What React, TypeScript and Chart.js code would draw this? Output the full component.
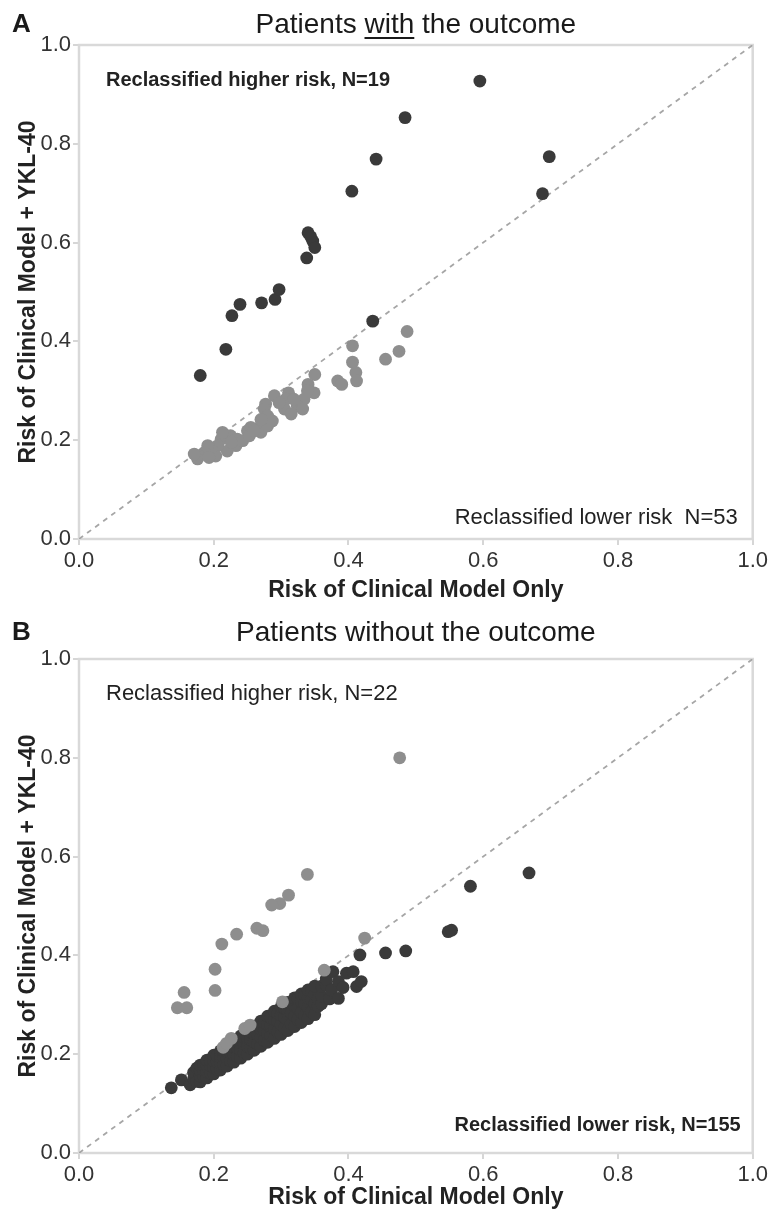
import React, { useEffect, useRef } from 'react';
import { Chart, registerables } from 'chart.js';

Chart.register(...registerables);

type Pt = [number, number];

const TICKS = [0, 0.2, 0.4, 0.6, 0.8, 1.0];
const DIAGONAL = [0, 1];

// Panel A: patients with the outcome
const A_HIGHER: Pt[] = [
  [0.595, 0.927], [0.484, 0.853], [0.441, 0.769], [0.405, 0.704], [0.698, 0.774],
  [0.688, 0.699], [0.340, 0.620], [0.347, 0.603], [0.350, 0.590], [0.338, 0.569],
  [0.436, 0.441], [0.180, 0.331], [0.218, 0.384], [0.227, 0.452], [0.239, 0.475],
  [0.271, 0.478], [0.291, 0.485], [0.297, 0.505], [0.344, 0.612],
];
const A_LOWER: Pt[] = [
  [0.487, 0.420], [0.406, 0.391], [0.475, 0.380], [0.455, 0.364], [0.406, 0.358],
  [0.411, 0.337], [0.412, 0.320], [0.384, 0.320], [0.390, 0.313], [0.350, 0.333],
  [0.340, 0.313], [0.349, 0.296], [0.334, 0.283], [0.324, 0.269], [0.332, 0.263],
  [0.311, 0.296], [0.307, 0.283], [0.305, 0.263], [0.290, 0.290], [0.277, 0.273],
  [0.275, 0.263], [0.280, 0.249], [0.270, 0.229], [0.270, 0.216], [0.255, 0.226],
  [0.250, 0.219], [0.280, 0.229], [0.287, 0.239], [0.235, 0.202], [0.225, 0.209],
  [0.218, 0.209], [0.211, 0.202], [0.233, 0.189], [0.220, 0.178], [0.206, 0.189],
  [0.203, 0.168], [0.196, 0.182], [0.191, 0.189], [0.186, 0.175], [0.178, 0.168],
  [0.176, 0.162], [0.171, 0.172], [0.193, 0.165], [0.213, 0.216], [0.243, 0.199],
  [0.253, 0.209], [0.260, 0.219], [0.297, 0.276], [0.315, 0.253], [0.319, 0.283],
  [0.339, 0.300], [0.270, 0.242], [0.226, 0.196],
];

// Panel B: patients without the outcome
const B_HIGHER: Pt[] = [
  [0.476, 0.800], [0.339, 0.564], [0.311, 0.522], [0.298, 0.505], [0.286, 0.502],
  [0.264, 0.455], [0.273, 0.450], [0.234, 0.443], [0.212, 0.423], [0.424, 0.435],
  [0.202, 0.372], [0.202, 0.329], [0.156, 0.325], [0.146, 0.294], [0.160, 0.294],
  [0.364, 0.370], [0.302, 0.306], [0.246, 0.252], [0.254, 0.259], [0.214, 0.214],
  [0.219, 0.222], [0.226, 0.232],
];
const B_LOWER: Pt[] = [
  [0.137, 0.132], [0.152, 0.148], [0.165, 0.138], [0.170, 0.150], [0.170, 0.163],
  [0.175, 0.145], [0.175, 0.172],
  [0.180, 0.144], [0.180, 0.156], [0.180, 0.167], [0.180, 0.178],
  [0.185, 0.154], [0.185, 0.167], [0.185, 0.178],
  [0.190, 0.152], [0.190, 0.164], [0.190, 0.177], [0.190, 0.188],
  [0.195, 0.162], [0.195, 0.176], [0.195, 0.187],
  [0.200, 0.160], [0.200, 0.173], [0.200, 0.186], [0.200, 0.198],
  [0.205, 0.170], [0.205, 0.185], [0.205, 0.197],
  [0.210, 0.168], [0.210, 0.182], [0.210, 0.195], [0.210, 0.207],
  [0.215, 0.178], [0.215, 0.194], [0.215, 0.206],
  [0.220, 0.176], [0.220, 0.190], [0.220, 0.205], [0.220, 0.217],
  [0.225, 0.187], [0.225, 0.203], [0.225, 0.216],
  [0.230, 0.184], [0.230, 0.199], [0.230, 0.214], [0.230, 0.227],
  [0.235, 0.195], [0.235, 0.212], [0.235, 0.226],
  [0.240, 0.192], [0.240, 0.208], [0.240, 0.223], [0.240, 0.237],
  [0.245, 0.203], [0.245, 0.221], [0.245, 0.235],
  [0.250, 0.200], [0.250, 0.216], [0.250, 0.232], [0.250, 0.247],
  [0.255, 0.212], [0.255, 0.230], [0.255, 0.245],
  [0.260, 0.208], [0.260, 0.225], [0.260, 0.242], [0.260, 0.257],
  [0.265, 0.220], [0.265, 0.239], [0.265, 0.254],
  [0.270, 0.216], [0.270, 0.234], [0.270, 0.251], [0.270, 0.267],
  [0.275, 0.228], [0.275, 0.248], [0.275, 0.264],
  [0.280, 0.224], [0.280, 0.242], [0.280, 0.260], [0.280, 0.277],
  [0.285, 0.237], [0.285, 0.257], [0.285, 0.274],
  [0.290, 0.232], [0.290, 0.251], [0.290, 0.270], [0.290, 0.287],
  [0.295, 0.245], [0.295, 0.266], [0.295, 0.283],
  [0.300, 0.240], [0.300, 0.260], [0.300, 0.279], [0.300, 0.296],
  [0.305, 0.253], [0.305, 0.275], [0.305, 0.293],
  [0.310, 0.248], [0.310, 0.268], [0.310, 0.288], [0.310, 0.305],
  [0.315, 0.261], [0.315, 0.284], [0.315, 0.302],
  [0.320, 0.256], [0.320, 0.277], [0.320, 0.298], [0.320, 0.314],
  [0.325, 0.270], [0.325, 0.293], [0.325, 0.312],
  [0.330, 0.264], [0.330, 0.285], [0.330, 0.306], [0.330, 0.322],
  [0.335, 0.278], [0.335, 0.302], [0.335, 0.320],
  [0.340, 0.272], [0.340, 0.294], [0.340, 0.314], [0.340, 0.330],
  [0.345, 0.286], [0.345, 0.310], [0.345, 0.328],
  [0.350, 0.280], [0.350, 0.302], [0.350, 0.322], [0.350, 0.338],
  [0.355, 0.297], [0.355, 0.312],
  [0.360, 0.302], [0.360, 0.318], [0.360, 0.338],
  [0.367, 0.340], [0.367, 0.352], [0.372, 0.312], [0.375, 0.330], [0.377, 0.367],
  [0.385, 0.313], [0.385, 0.347], [0.392, 0.335], [0.397, 0.364], [0.407, 0.367],
  [0.412, 0.337], [0.419, 0.347], [0.417, 0.401], [0.455, 0.405], [0.485, 0.409],
  [0.548, 0.448], [0.553, 0.451], [0.581, 0.540], [0.668, 0.567],
];

const FONT = "'Liberation Sans', Arial, Helvetica, sans-serif";
const DARK = '#3a3a3a';
const GRAY = '#8e8e8e';

interface PanelSpec {
  letter: string;
  titleParts: { text: string; underline: boolean }[];
  dark: Pt[];
  gray: Pt[];
  grayOnTop: boolean;
  topText: string;
  topBold: boolean;
  bottomText: string;
  bottomBold: boolean;
  canvasTop: number;
  height: number;
  plotTop: number;
  plotBottom: number;
  xScaleH: number;
  titleY: number;
  bottomTextOffset: number;
  bottomTextRight: number;
}

const PANELS: PanelSpec[] = [
  {
    letter: 'A',
    titleParts: [
      { text: 'Patients ', underline: false },
      { text: 'with', underline: true },
      { text: ' the outcome', underline: false },
    ],
    dark: A_HIGHER,
    gray: A_LOWER,
    grayOnTop: false,
    topText: 'Reclassified higher risk, N=19',
    topBold: true,
    bottomText: 'Reclassified lower risk  N=53',
    bottomBold: false,
    canvasTop: 0,
    height: 608,
    plotTop: 45,
    plotBottom: 539,
    xScaleH: 65,
    titleY: 25,
    bottomTextOffset: 21,
    bottomTextRight: 15,
  },
  {
    letter: 'B',
    titleParts: [{ text: 'Patients without the outcome', underline: false }],
    dark: B_LOWER,
    gray: B_HIGHER,
    grayOnTop: true,
    topText: 'Reclassified higher risk, N=22',
    topBold: false,
    bottomText: 'Reclassified lower risk, N=155',
    bottomBold: true,
    canvasTop: 608,
    height: 605,
    plotTop: 51,
    plotBottom: 545,
    xScaleH: 58,
    titleY: 25,
    bottomTextOffset: 28,
    bottomTextRight: 12,
  },
];

function decorPlugin(p: PanelSpec) {
  return {
    id: 'decor' + p.letter,
    beforeDatasetsDraw(chart: any) {
      const { ctx, chartArea: a } = chart;
      ctx.save();
      ctx.strokeStyle = '#d9d9d9';
      ctx.lineWidth = 2.5;
      ctx.strokeRect(a.left, a.top, a.right - a.left, a.bottom - a.top);
      ctx.restore();
    },
    afterDraw(chart: any) {
      const { ctx, chartArea: a } = chart;
      ctx.save();
      ctx.fillStyle = '#1a1a1a';
      ctx.textBaseline = 'middle';
      ctx.textAlign = 'left';
      ctx.font = `bold 26px ${FONT}`;
      ctx.fillText(p.letter, 12, p.titleY);

      ctx.font = `28px ${FONT}`;
      const full = p.titleParts.map((t) => t.text).join('');
      const w = ctx.measureText(full).width;
      let x = (a.left + a.right) / 2 - w / 2;
      for (const part of p.titleParts) {
        const pw = ctx.measureText(part.text).width;
        ctx.fillText(part.text, x, p.titleY);
        if (part.underline) {
          ctx.fillRect(x, p.titleY + 12, pw, 2);
        }
        x += pw;
      }

      ctx.fillStyle = '#222';
      ctx.font = `${p.topBold ? 'bold 20px' : '22px'} ${FONT}`;
      ctx.textAlign = 'left';
      ctx.fillText(p.topText, a.left + 27, a.top + 35);
      ctx.font = `${p.bottomBold ? 'bold 20px' : '22px'} ${FONT}`;
      ctx.textAlign = 'right';
      ctx.fillText(p.bottomText, a.right - p.bottomTextRight, a.bottom - p.bottomTextOffset);
      ctx.restore();
    },
  };
}

function makeConfig(p: PanelSpec): any {
  const darkSet = {
    data: p.dark.map(([x, y]) => ({ x, y })),
    backgroundColor: DARK,
    borderWidth: 0,
    pointRadius: 6.4,
    pointHoverRadius: 6.4,
  };
  const graySet = {
    data: p.gray.map(([x, y]) => ({ x, y })),
    backgroundColor: GRAY,
    borderWidth: 0,
    pointRadius: 6.4,
    pointHoverRadius: 6.4,
  };
  const diag = {
    data: DIAGONAL.map((v) => ({ x: v, y: v })),
    showLine: true,
    borderColor: '#a6a6a6',
    borderDash: [5, 5],
    borderWidth: 1.8,
    pointRadius: 0,
    fill: false,
  };
  const datasets = p.grayOnTop ? [graySet, darkSet, diag] : [darkSet, graySet, diag];
  const tickFont = { family: FONT, size: 22 };
  const titleFont = { family: FONT, size: 23, weight: 'bold' as const, lineHeight: 1.2 };
  return {
    type: 'scatter',
    data: { datasets },
    options: {
      animation: false,
      responsive: false,
      maintainAspectRatio: false,
      events: [],
      layout: {
        padding: {
          left: 0,
          right: 771 - 753,
          top: p.plotTop,
          bottom: p.height - p.plotBottom - p.xScaleH,
        },
      },
      plugins: { legend: { display: false }, tooltip: { enabled: false }, title: { display: false } },
      scales: {
        x: {
          type: 'linear',
          min: 0,
          max: 1,
          afterBuildTicks: (s: any) => {
            s.ticks = TICKS.map((v) => ({ value: v }));
          },
          afterFit: (s: any) => {
            s.height = p.xScaleH;
          },
          ticks: {
            font: tickFont,
            color: '#333',
            padding: 3,
            maxRotation: 0,
            autoSkip: false,
            callback: (v: any) => Number(v).toFixed(1),
          },
          grid: { display: true, drawOnChartArea: false, drawTicks: true, tickLength: 6, color: '#d6d6d6', lineWidth: 2 },
          border: { display: false },
          title: {
            display: true,
            text: 'Risk of Clinical Model Only',
            font: titleFont,
            color: '#222',
            padding: { top: 0, bottom: 0 },
          },
        },
        y: {
          type: 'linear',
          min: 0,
          max: 1,
          afterBuildTicks: (s: any) => {
            s.ticks = TICKS.map((v) => ({ value: v }));
          },
          afterFit: (s: any) => {
            s.width = 79;
          },
          ticks: {
            font: tickFont,
            color: '#333',
            padding: 2,
            autoSkip: false,
            callback: (v: any) => Number(v).toFixed(1),
          },
          grid: { display: true, drawOnChartArea: false, drawTicks: true, tickLength: 6, color: '#d6d6d6', lineWidth: 2 },
          border: { display: false },
          title: {
            display: true,
            text: 'Risk of Clinical Model + YKL-40',
            font: titleFont,
            color: '#222',
            padding: { top: 15, bottom: 0 },
          },
        },
      },
    },
    plugins: [decorPlugin(p)],
  };
}

function Panel({ spec }: { spec: PanelSpec }) {
  const ref = useRef<HTMLCanvasElement>(null);
  useEffect(() => {
    if (!ref.current) return;
    const chart = new Chart(ref.current, makeConfig(spec));
    return () => chart.destroy();
  }, [spec]);
  return (
    <canvas
      ref={ref}
      width={771}
      height={spec.height}
      style={{ position: 'absolute', left: 0, top: spec.canvasTop, width: 771, height: spec.height, display: 'block' }}
    />
  );
}

export default function App() {
  return (
    <div style={{ position: 'absolute', left: 0, top: 0, width: 771, height: 1213, background: '#fff', overflow: 'hidden' }}>
      {PANELS.map((p) => (
        <Panel key={p.letter} spec={p} />
      ))}
    </div>
  );
}
